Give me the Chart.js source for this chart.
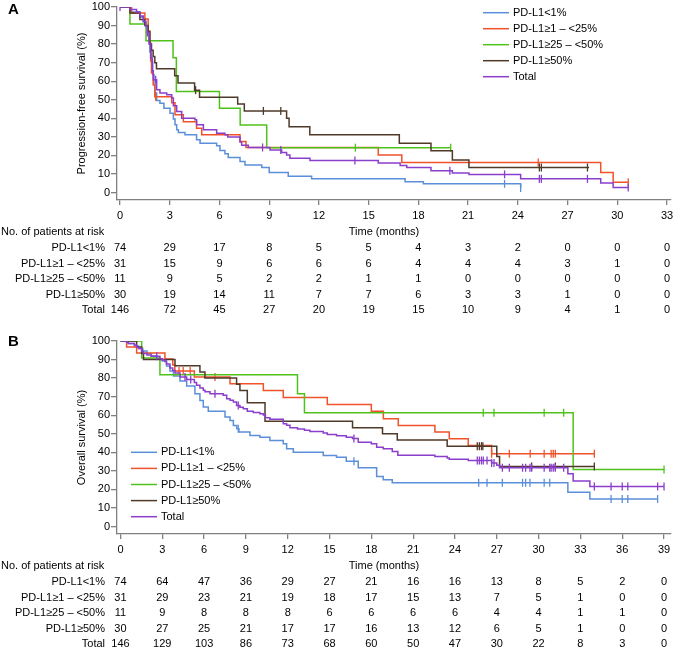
<!DOCTYPE html>
<html>
<head>
<meta charset="utf-8">
<script src="https://cdn.jsdelivr.net/npm/chart.js@4.4.1/dist/chart.umd.min.js"></script>
<style>
  html, body { margin: 0; padding: 0; background: #fff; }
  #wrap { position: relative; width: 677px; height: 651px; }
  .panel { position: absolute; left: 0; }
  #boxA { top: 0; }
  #boxB { top: 334px; }
</style>
</head>
<body>
<div id="wrap">
  <div class="panel" id="boxA"><canvas id="chartA" width="677" height="334"></canvas></div>
  <div class="panel" id="boxB"><canvas id="chartB" width="677" height="317"></canvas></div>
</div>
<script>
// Groups
const groupNames = ['PD-L1<1%', 'PD-L1≥1 – <25%', 'PD-L1≥25 – <50%', 'PD-L1≥50%', 'Total'];
const groupColors = ['#5b8fd9', '#f0522a', '#4fc21a', '#4f3a2a', '#8a3ecb'];

// Tick labels
const yTicks = [0, 10, 20, 30, 40, 50, 60, 70, 80, 90, 100];
const pfsTicks = [0, 3, 6, 9, 12, 15, 18, 21, 24, 27, 30, 33];
const osTicks = [0, 3, 6, 9, 12, 15, 18, 21, 24, 27, 30, 33, 36, 39];

// Panel A: progression-free survival (time in months, survival % after each step, censor times)
const pfsTimeLt1 = [0, 0.6, 1.2, 1.4, 1.57, 1.65, 1.75, 1.8, 1.9, 1.97, 2.05, 2.11, 2.21, 2.41, 2.65, 3.02, 3.22, 3.32, 3.42, 3.52, 3.92, 4.62, 4.83, 5.83, 6.03, 6.33, 6.53, 7.24, 7.54, 8.55, 9.0, 10.15, 11.56, 17.2, 18.3, 24.17];
const pfsSurvLt1 = [100, 97.3, 94.6, 91.9, 89.2, 86.5, 81.1, 75.7, 70.3, 63.5, 58.1, 53.6, 49.6, 48.2, 45.5, 42.8, 39.6, 36.5, 33.8, 32.4, 31.1, 28.4, 26.6, 25.2, 22.7, 20.9, 18.9, 16.7, 14.9, 13.5, 10.8, 8.8, 7.4, 5.9, 4.7, 2.4];
const pfsCensLt1 = [23.2, 24.17];

const pfsTime1to25 = [0, 0.7, 1.5, 1.7, 1.8, 1.85, 1.9, 2.0, 2.1, 3.12, 3.32, 3.82, 4.62, 4.93, 7.24, 7.6, 15.58, 17.0, 29.0, 29.75, 30.66];
const pfsSurv1to25 = [100, 96.8, 93.5, 87.1, 80.6, 71.0, 64.5, 58.1, 51.6, 48.4, 41.9, 38.2, 34.7, 31.2, 27.5, 24.3, 20.3, 16.2, 10.8, 5.6, 5.6];
const pfsCens1to25 = [2.15, 25.23, 30.66];

const pfsTime25to50 = [0, 0.6, 1.57, 3.2, 3.4, 6.0, 7.25, 8.85, 19.95];
const pfsSurv25to50 = [100, 90.9, 81.8, 72.7, 54.5, 45.5, 36.4, 24.2, 24.2];
const pfsCens25to50 = [14.2, 19.95];

const pfsTimeGe50 = [0, 0.6, 1.2, 1.5, 1.7, 1.8, 1.9, 2.0, 2.1, 2.2, 3.3, 3.5, 4.5, 4.8, 7.1, 7.5, 10.05, 10.2, 11.45, 16.85, 18.76, 20.05, 21.05, 28.3];
const pfsSurvGe50 = [100, 96.7, 93.3, 90.0, 86.7, 80.0, 76.7, 73.3, 70.0, 66.7, 62.9, 59.0, 55.2, 51.4, 47.7, 44.0, 40.0, 35.5, 31.1, 26.6, 22.5, 17.6, 13.5, 13.5];
const pfsCensGe50 = [4.56, 8.65, 9.7, 25.3, 25.42, 28.2];

const pfsTimeTotal = [0, 0.6, 1.0, 1.2, 1.4, 1.55, 1.65, 1.75, 1.85, 1.95, 2.01, 2.21, 2.41, 2.82, 3.12, 3.22, 3.42, 3.72, 4.52, 4.62, 5.03, 5.83, 6.33, 6.5, 7.24, 7.34, 7.74, 9.05, 9.75, 10.05, 10.25, 11.46, 15.58, 16.9, 17.3, 18.76, 20.05, 21.05, 24.17, 29.0, 29.75, 30.66];
const pfsSurvTotal = [100, 98.6, 97.3, 95.2, 92.5, 89.7, 86.3, 80.1, 72.5, 65.6, 60.8, 55.4, 53.6, 52.7, 50.9, 46.8, 43.7, 40.1, 39.2, 36.5, 33.8, 32.0, 31.1, 29.9, 27.2, 25.5, 24.3, 23.0, 21.6, 20.3, 18.5, 17.3, 15.9, 14.6, 13.5, 11.7, 10.5, 9.8, 7.4, 5.1, 2.7, 2.7];
const pfsCensTotal = [0, 1.65, 2.15, 8.6, 9.7, 14.17, 19.9, 23.2, 25.3, 25.42, 28.2, 30.66];

const pfsRisk = [
    [74, 29, 17, 8, 5, 5, 4, 3, 2, 0, 0, 0],
    [31, 15, 9, 6, 6, 6, 4, 4, 4, 3, 1, 0],
    [11, 9, 5, 2, 2, 1, 1, 0, 0, 0, 0, 0],
    [30, 19, 14, 11, 7, 7, 6, 3, 3, 1, 0, 0],
    [146, 72, 45, 27, 20, 19, 15, 10, 9, 4, 1, 0]
];

// Panel B: overall survival
const osTimeLt1 = [0, 0.56, 1.0, 1.3, 1.6, 1.9, 2.2, 2.6, 3.0, 3.3, 3.55, 3.8, 4.27, 4.75, 5.34, 5.7, 5.94, 6.3, 7.5, 7.86, 8.1, 8.35, 8.5, 9.29, 10.0, 10.72, 11.68, 11.92, 12.4, 14.55, 15.5, 16.2, 17.06, 18.38, 18.85, 19.5, 32.1, 33.68, 38.54];
const osSurvLt1 = [100, 98.6, 97.3, 95.9, 94.6, 93.2, 91.9, 90.5, 89.2, 86.5, 83.8, 81.1, 78.4, 75.7, 71.6, 68.0, 64.4, 62.2, 59.0, 57.2, 54.5, 52.7, 50.9, 49.1, 48.2, 46.4, 44.6, 42.0, 40.1, 38.3, 37.4, 35.2, 31.7, 27.0, 25.2, 23.6, 18.5, 14.9, 14.9];
const osCensLt1 = [8.45, 16.75, 25.7, 26.3, 27.4, 28.85, 29.07, 29.38, 30.4, 30.8, 35.2, 36.0, 36.4, 38.54];

const osTime1to25 = [0, 0.44, 1.16, 3.19, 3.75, 3.9, 5.3, 7.86, 10.25, 11.68, 14.84, 18.0, 18.86, 19.93, 22.56, 23.59, 24.95, 26.63, 34.0];
const osSurv1to25 = [100, 96.8, 93.5, 90.3, 87.1, 83.9, 80.6, 77.0, 73.3, 69.5, 65.8, 62.2, 58.1, 54.5, 50.9, 47.3, 43.7, 39.2, 39.2];
const osCens1to25 = [4.2, 4.5, 5.0, 6.78, 26.63, 27.9, 29.4, 30.4, 30.9, 31.05, 31.2, 34.0];

const osTime25to50 = [0, 1.52, 2.83, 12.7, 13.2, 32.48, 39.0];
const osSurv25to50 = [100, 90.9, 81.8, 71.6, 61.4, 30.7, 30.7];
const osCens25to50 = [26.03, 26.8, 30.4, 31.8, 39.0];

const osTimeGe50 = [0, 1.16, 1.52, 1.65, 3.91, 5.7, 6.06, 8.33, 8.57, 9.1, 10.37, 16.65, 18.8, 19.86, 23.44, 27.0, 27.2, 34.0];
const osSurvGe50 = [100, 96.7, 93.3, 90.0, 86.7, 83.3, 80.0, 76.7, 73.3, 66.7, 56.7, 53.3, 50.0, 46.7, 43.3, 37.8, 32.4, 32.4];
const osCensGe50 = [25.6, 25.75, 25.9, 26.0, 29.5, 31.2, 34.0];

const osTimeTotal = [0, 0.44, 0.56, 1.0, 1.16, 1.3, 1.52, 1.65, 1.9, 2.2, 2.83, 3.0, 3.19, 3.3, 3.55, 3.75, 3.91, 4.27, 4.75, 5.3, 5.46, 5.7, 5.94, 6.06, 6.42, 7.37, 7.62, 7.86, 8.1, 8.33, 8.57, 8.81, 9.1, 9.53, 10.0, 10.25, 10.4, 10.72, 11.68, 11.92, 12.16, 12.7, 13.2, 13.59, 14.55, 14.84, 15.5, 16.2, 16.65, 17.06, 18.0, 18.38, 18.85, 19.5, 19.9, 22.56, 23.44, 23.59, 24.95, 26.63, 27.0, 27.2, 32.1, 32.48, 33.68, 39.0];
const osSurvTotal = [100, 99.3, 98.6, 97.9, 96.6, 95.9, 94.5, 93.2, 92.5, 91.8, 90.4, 89.7, 89.0, 87.6, 85.5, 84.1, 82.7, 80.6, 79.2, 77.7, 76.1, 74.7, 73.4, 72.7, 71.6, 70.7, 68.9, 68.1, 67.1, 65.3, 64.3, 63.5, 62.2, 61.5, 60.8, 60.1, 58.6, 57.9, 55.4, 54.6, 53.3, 52.6, 51.9, 51.2, 50.4, 49.6, 48.9, 48.2, 47.4, 45.5, 44.6, 42.8, 41.9, 40.5, 38.5, 37.8, 37.0, 36.3, 35.6, 34.2, 33.1, 31.7, 28.4, 24.6, 21.6, 21.6];
const osCensTotal = [2.6, 4.63, 5.04, 6.78, 8.45, 16.75, 25.6, 25.75, 25.9, 26.03, 26.3, 26.63, 26.8, 27.4, 27.9, 28.85, 29.07, 29.38, 29.5, 30.4, 30.8, 30.9, 31.05, 31.2, 31.8, 34.0, 35.2, 36.0, 36.4, 38.54, 39.0];

const osRisk = [
    [74, 64, 47, 36, 29, 27, 21, 16, 16, 13, 8, 5, 2, 0],
    [31, 29, 23, 21, 19, 18, 17, 15, 13, 7, 5, 1, 0, 0],
    [11, 9, 8, 8, 8, 6, 6, 6, 6, 4, 4, 1, 1, 0],
    [30, 27, 25, 21, 17, 17, 16, 13, 12, 6, 5, 1, 0, 0],
    [146, 129, 103, 86, 73, 68, 60, 50, 47, 30, 22, 8, 3, 0]
];

const FONT_FAMILY = '"Liberation Sans", Arial, Helvetica, sans-serif';
const AXIS_GREY = '#808080';
Chart.defaults.font.family = FONT_FAMILY;
Chart.defaults.font.size = 11;
Chart.defaults.color = '#000';

// survival value of a step curve at time t
function survAt(times, surv, t) {
    let s = surv[0];
    for (let i = 0; i < times.length; i++) {
        if (times[i] <= t) s = surv[i];
    }
    return s;
}

function buildDatasets(curves) {
    const sets = [];
    curves.forEach((c, i) => {
        sets.push({
            type: 'line',
            label: groupNames[i],
            data: c.t.map((t, k) => ({ x: t, y: c.s[k] })),
            stepped: true,
            borderColor: groupColors[i],
            borderWidth: 1.5,
            pointRadius: 0,
            fill: false,
            order: 5 - i
        });
        sets.push({
            type: 'scatter',
            label: groupNames[i] + ' censored',
            data: c.c.map(t => ({ x: t, y: survAt(c.t, c.s, t) })),
            pointStyle: 'line',
            rotation: 90,
            pointRadius: 4,
            borderColor: groupColors[i],
            borderWidth: 1.3,
            showLine: false,
            order: 5 - i
        });
    });
    return sets;
}

// Risk table, x-axis title, legend and panel letter
const panelExtras = {
    id: 'panelExtras',
    afterDraw(chart, args, opts) {
        const ctx = chart.ctx;
        const xs = chart.scales.x;
        const base = chart.chartArea.bottom;
        ctx.save();
        ctx.fillStyle = '#000';
        ctx.font = '11px ' + FONT_FAMILY;
        ctx.textBaseline = 'middle';

        ctx.textAlign = 'left';
        ctx.fillText('No. of patients at risk', 1, base + 31.5);
        ctx.textAlign = 'center';
        ctx.fillText('Time (months)', 384, base + 31.5);

        opts.risk.forEach((row, r) => {
            const y = base + 48 + r * 15.6;
            ctx.textAlign = 'right';
            ctx.fillText(groupNames[r], 105, y);
            ctx.textAlign = 'center';
            row.forEach((n, k) => {
                ctx.fillText(String(n), xs.getPixelForValue(opts.ticks[k]), y);
            });
        });

        // legend
        const lg = opts.legend;
        groupNames.forEach((name, i) => {
            const y = lg.y + i * lg.dy;
            ctx.strokeStyle = groupColors[i];
            ctx.lineWidth = 1.5;
            ctx.beginPath();
            ctx.moveTo(lg.x, y);
            ctx.lineTo(lg.x + 26, y);
            ctx.stroke();
            ctx.textAlign = 'left';
            ctx.fillText(name, lg.x + 30, y);
        });

        ctx.font = 'bold 15px ' + FONT_FAMILY;
        ctx.textAlign = 'left';
        ctx.fillText(opts.letter, 8, opts.letterY);
        ctx.restore();
    }
};

function makeChart(canvasId, curves, cfg) {
    return new Chart(document.getElementById(canvasId), {
        type: 'line',
        data: { datasets: buildDatasets(curves) },
        plugins: [panelExtras],
        options: {
            responsive: false,
            animation: false,
            devicePixelRatio: 1,
            layout: { padding: { top: 7, right: 6, bottom: 0, left: 0 } },
            plugins: {
                legend: { display: false },
                tooltip: { enabled: false },
                panelExtras: { risk: cfg.risk, ticks: cfg.ticks, legend: cfg.legend, letter: cfg.letter, letterY: cfg.letterY }
            },
            scales: {
                x: {
                    type: 'linear',
                    min: cfg.xMin,
                    max: cfg.xMax,
                    afterBuildTicks: axis => { axis.ticks = cfg.ticks.map(v => ({ value: v })); },
                    afterFit: s => { s.height = cfg.height - 200; s.paddingLeft = 0; s.paddingRight = 0; },
                    ticks: { padding: 4, maxRotation: 0, autoSkip: false, color: '#000' },
                    grid: { display: true, drawOnChartArea: false, drawTicks: true, tickLength: 5, color: AXIS_GREY, lineWidth: 1.3 },
                    border: { display: true, color: AXIS_GREY, width: 1.3 }
                },
                y: {
                    min: -4,
                    max: 100,
                    afterBuildTicks: axis => { axis.ticks = yTicks.map(v => ({ value: v })); },
                    afterFit: s => { s.width = 117; s.paddingTop = 0; s.paddingBottom = 0; },
                    ticks: { padding: 1, color: '#000' },
                    title: { display: true, text: cfg.yTitle, color: '#000', font: { size: 11 }, padding: { top: 75, bottom: 0 } },
                    grid: { display: true, drawOnChartArea: false, drawTicks: true, tickLength: 6, color: AXIS_GREY, lineWidth: 1.3 },
                    border: { display: true, color: AXIS_GREY, width: 1.3 }
                }
            }
        }
    });
}

makeChart('chartA', [
    { t: pfsTimeLt1, s: pfsSurvLt1, c: pfsCensLt1 },
    { t: pfsTime1to25, s: pfsSurv1to25, c: pfsCens1to25 },
    { t: pfsTime25to50, s: pfsSurv25to50, c: pfsCens25to50 },
    { t: pfsTimeGe50, s: pfsSurvGe50, c: pfsCensGe50 },
    { t: pfsTimeTotal, s: pfsSurvTotal, c: pfsCensTotal }
], {
    height: 334, xMin: -0.181, xMax: 33.24, ticks: pfsTicks, risk: pfsRisk,
    yTitle: 'Progression-free survival (%)',
    legend: { x: 483, y: 12.7, dy: 16 }, letter: 'A', letterY: 10
});

makeChart('chartB', [
    { t: osTimeLt1, s: osSurvLt1, c: osCensLt1 },
    { t: osTime1to25, s: osSurv1to25, c: osCens1to25 },
    { t: osTime25to50, s: osSurv25to50, c: osCens25to50 },
    { t: osTimeGe50, s: osSurvGe50, c: osCensGe50 },
    { t: osTimeTotal, s: osSurvTotal, c: osCensTotal }
], {
    height: 317, xMin: -0.25, xMax: 39.5, ticks: osTicks, risk: osRisk,
    yTitle: 'Overall survival (%)',
    legend: { x: 131, y: 118.3, dy: 16.1 }, letter: 'B', letterY: 8
});
</script>
</body>
</html>
